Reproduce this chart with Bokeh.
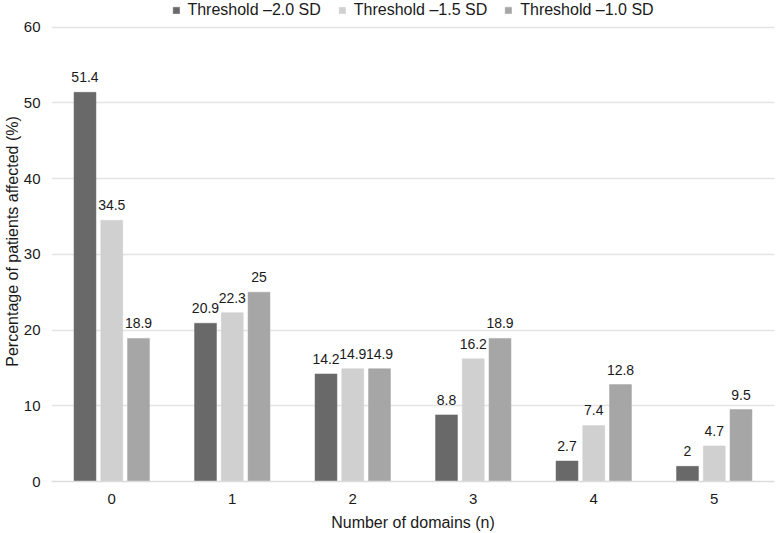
from bokeh.plotting import figure
from bokeh.models import ColumnDataSource, Legend, LegendItem, FactorRange, Range1d, LabelSet
from bokeh.transform import dodge
from bokeh.core.properties import value
from bokeh.embed import file_html
from bokeh.resources import INLINE

domains = ["0", "1", "2", "3", "4", "5"]
series_names = ["Threshold \u20132.0 SD", "Threshold \u20131.5 SD", "Threshold \u20131.0 SD"]
sd20 = [51.4, 20.9, 14.2, 8.8, 2.7, 2]
sd15 = [34.5, 22.3, 14.9, 16.2, 7.4, 4.7]
sd10 = [18.9, 25, 14.9, 18.9, 12.8, 9.5]
colors = ["#696969", "#d0d0d0", "#a6a6a6"]
y_ticks = [0, 10, 20, 30, 40, 50, 60]

FONT = "Liberation Sans"
TXT = "#1a1a1a"

def fmt(v):
    return ("%g" % v)

src = ColumnDataSource(dict(
    x=domains, a=sd20, b=sd15, c=sd10,
    la=[fmt(v) for v in sd20], lb=[fmt(v) for v in sd15], lc=[fmt(v) for v in sd10],
))

p = figure(x_range=FactorRange(*domains, range_padding=0), y_range=Range1d(0, 63.4),
           width=781, height=533, output_backend="svg", toolbar_location=None,
           min_border_left=51, min_border_right=7, min_border_top=1, min_border_bottom=50)

offs = [-0.222, 0.0, 0.222]
cols = ["a", "b", "c"]
lcols = ["la", "lb", "lc"]
renderers = []
for off, col, lc, color in zip(offs, cols, lcols, colors):
    r = p.vbar(x=dodge("x", off, range=p.x_range), top=col, width=0.182, source=src,
               fill_color=color, line_color=color, line_width=0.5)
    renderers.append(r)
    lbl = LabelSet(x=dodge("x", off, range=p.x_range), y=col, text=lc, source=src,
                   text_align="center", text_baseline="bottom", y_offset=10,
                   text_font=value(FONT), text_font_size=value("14px"), text_color=value(TXT))
    p.add_layout(lbl)

legend = Legend(items=[LegendItem(label=n, renderers=[r]) for n, r in zip(series_names, renderers)],
                orientation="horizontal", location="top_center",
                label_text_font=FONT, label_text_font_size="16px", label_text_color=TXT,
                glyph_width=8, glyph_height=8, label_standoff=8, spacing=17,
                padding=0, margin=0, border_line_color=None, background_fill_alpha=0,
                label_height=17)
p.add_layout(legend)

p.yaxis.ticker = y_ticks
p.yaxis.axis_line_color = None
p.yaxis.major_tick_line_color = None
p.yaxis.minor_tick_line_color = None
p.xaxis.major_tick_line_color = None
p.xaxis.minor_tick_line_color = None
p.xaxis.axis_line_color = "#dcdcdc"
p.xaxis.axis_line_width = 1.5

for ax in (p.xaxis, p.yaxis):
    ax.major_label_text_font = FONT
    ax.major_label_text_font_size = "15px"
    ax.major_label_text_color = TXT
    ax.axis_label_text_font = FONT
    ax.axis_label_text_font_size = "16px"
    ax.axis_label_text_font_style = "normal"
    ax.axis_label_text_color = TXT

p.xaxis.axis_label = "Number of domains (n)"
p.yaxis.axis_label = "Percentage of patients affected (%)"
p.yaxis.major_label_standoff = 5
p.yaxis.axis_label_standoff = 0
p.xaxis.major_label_standoff = 6
p.xaxis.axis_label_standoff = 7

p.xgrid.grid_line_color = None
p.ygrid.grid_line_color = "#e4e4e4"
p.ygrid.grid_line_width = 1.5
p.outline_line_color = None

open("out.html", "w").write(file_html(p, INLINE))
